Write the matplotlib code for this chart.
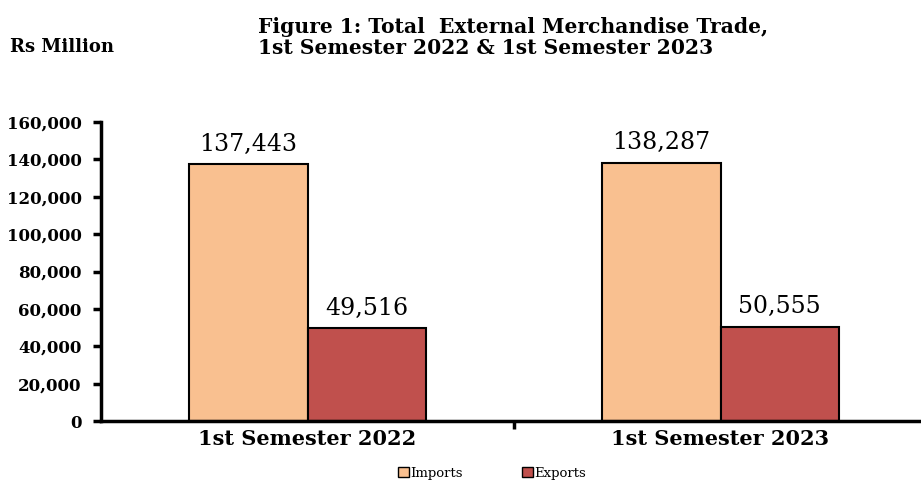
import numpy as np
import matplotlib.pyplot as plt
from matplotlib.patches import Patch
from matplotlib.ticker import FuncFormatter

# 데이터
categories = ["1st Semester 2022", "1st Semester 2023"]
imports = [137443, 138287]
exports = [49516, 50555]

# 원본은 가로로 늘어난 Times 글꼴 -> 폭이 넓은 DejaVu Serif 사용
plt.rcParams["font.family"] = ["DejaVu Serif"]

fig = plt.figure(figsize=(9.21, 4.8), dpi=100)
ax = fig.add_axes([101 / 921, 59 / 480, 820 / 921, 299 / 480])

x = np.arange(len(categories))
w = 0.286

b1 = ax.bar(x - w / 2, imports, w, color="#F9C090", edgecolor="black", linewidth=1.5, label="Imports")
b2 = ax.bar(x + w / 2, exports, w, color="#C0504D", edgecolor="black", linewidth=1.5, label="Exports")

# 값 라벨
for bars in (b1, b2):
    for r in bars:
        ax.text(r.get_x() + r.get_width() / 2, r.get_height() + 4500, f"{int(r.get_height()):,}",
                ha="center", va="bottom", fontsize=17)

# 축 설정
ax.set_ylim(0, 160000)
ax.set_yticks(np.arange(0, 160001, 20000))
ax.yaxis.set_major_formatter(FuncFormatter(lambda v, p: f"{int(v):,}"))
ax.set_xlim(-0.5, 1.5 - 6 / 413)
ax.set_xticks([0.5])
ax.set_xticklabels([])
ax.set_xticks(x, minor=True)
ax.set_xticklabels(categories, minor=True, fontsize=15, fontweight="bold")
ax.tick_params(axis="x", which="minor", length=0, pad=6)
ax.tick_params(axis="x", which="major", direction="out", length=6, width=2.5)
ax.tick_params(axis="y", direction="out", length=6, width=2.5, labelsize=12, pad=8)
for lab in ax.get_yticklabels():
    lab.set_fontweight("bold")

for s in ("top", "right"):
    ax.spines[s].set_visible(False)
for s in ("left", "bottom"):
    ax.spines[s].set_linewidth(2.5)

# 제목
fig.text(258 / 921, 1 - 27 / 480, "Figure 1: Total  External Merchandise Trade,",
         fontsize=14.6, fontweight="bold", va="center", ha="left")
fig.text(258 / 921, 1 - 48 / 480, "1st Semester 2022 & 1st Semester 2023",
         fontsize=14.6, fontweight="bold", va="center", ha="left")
fig.text(10 / 921, 1 - 47 / 480, "Rs Million", fontsize=13, fontweight="bold", va="center", ha="left")

# 범례
handles = [Patch(facecolor="#F9C090", edgecolor="black", label="Imports"),
           Patch(facecolor="#C0504D", edgecolor="black", label="Exports")]
fig.legend(handles=handles, loc="center", bbox_to_anchor=(492 / 921, 1 - 473 / 480), ncol=2,
           frameon=False, fontsize=9.5, handlelength=0.8, handleheight=0.8, handletextpad=0.1,
           columnspacing=4.5)

plt.savefig("out.png", dpi=100)
